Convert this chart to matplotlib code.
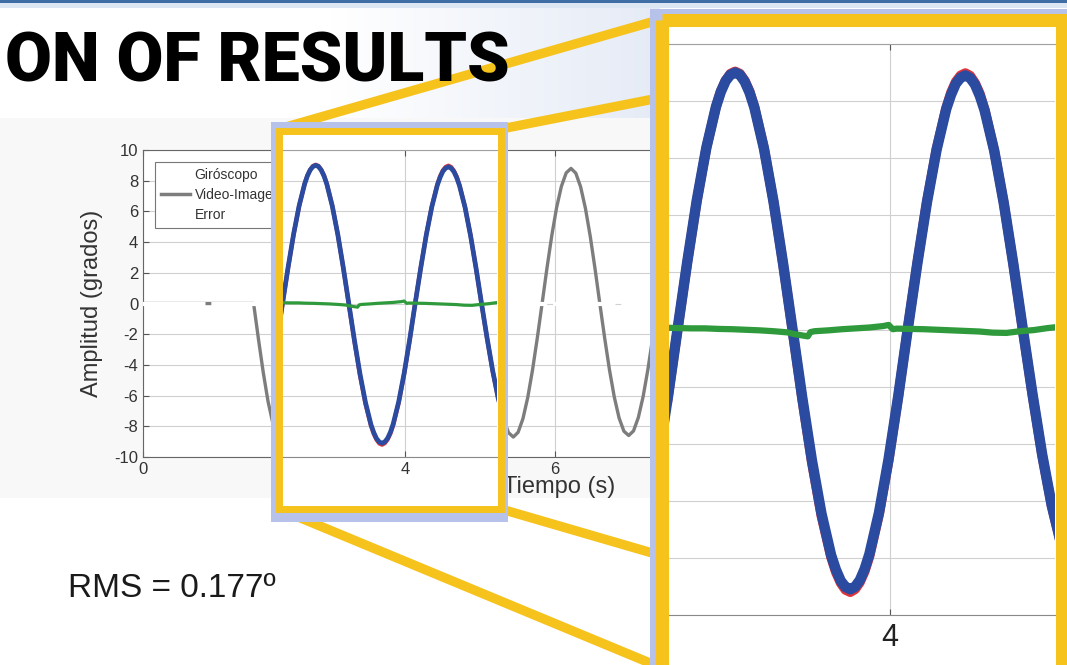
import numpy as np
import matplotlib
matplotlib.use('Agg')
import matplotlib.pyplot as plt
from matplotlib.patches import Rectangle
from matplotlib.lines import Line2D
from matplotlib.colors import LinearSegmentedColormap

plt.rcParams['font.family'] = ['Liberation Sans', 'DejaVu Sans']
plt.rcParams['axes.unicode_minus'] = False

# muestras de la señal (s) y amplitud (grados)
tiempo = [0.00,
          1.61, 1.68, 1.75, 1.82, 1.89, 1.96, 2.03, 2.10, 2.17, 2.24, 2.31, 2.38,
          2.45, 2.52, 2.59, 2.66, 2.73, 2.765, 2.80, 2.835, 2.87, 2.905, 2.94, 2.975,
          3.01, 3.08, 3.15, 3.22,
          3.29, 3.36, 3.43, 3.50, 3.57, 3.605, 3.64, 3.675, 3.71, 3.745, 3.78, 3.815,
          3.85, 3.92, 3.99, 4.06,
          4.13, 4.20, 4.27, 4.34, 4.41, 4.445, 4.48, 4.515, 4.55, 4.585, 4.62, 4.655,
          4.69, 4.76, 4.83, 4.90,
          4.97, 5.04, 5.11, 5.18, 5.25, 5.32, 5.39, 5.46, 5.53, 5.60, 5.67, 5.74,
          5.81, 5.88, 5.95, 6.02, 6.09, 6.16, 6.23, 6.30, 6.37, 6.44, 6.51, 6.58,
          6.65, 6.72, 6.79, 6.86, 6.93, 7.00, 7.07, 7.14, 7.21, 7.28, 7.35, 7.42,
          7.49, 7.56, 7.63]

video = [0.00,
         0.00, -2.30, -4.48, -6.38, -7.80, -8.70, -9.00, -8.68, -7.77, -6.35, -4.50, -2.34,
         0.02, 2.35, 4.52, 6.37, 7.80, 8.32, 8.70, 8.92, 9.00, 8.92, 8.68, 8.30,
         7.78, 6.34, 4.48, 2.30,
         -0.04, -2.40, -4.58, -6.45, -7.90, -8.41, -8.80, -9.02, -9.10, -9.01, -8.78, -8.39,
         -7.86, -6.41, -4.53, -2.34,
         0.03, 2.33, 4.47, 6.30, 7.72, 8.22, 8.61, 8.82, 8.90, 8.81, 8.58, 8.19,
         7.68, 6.27, 4.43, 2.29,
         -0.02, -2.27, -4.37, -6.16, -7.54, -8.41, -8.70, -8.39, -7.51, -6.13, -4.33, -2.23,
         0.02, 2.30, 4.42, 6.24, 7.63, 8.51, 8.80, 8.49, 7.60, 6.20, 4.38, 2.26,
         -0.02, -2.25, -4.32, -6.09, -7.46, -8.32, -8.60, -8.30, -7.43, -6.06, -4.28, -2.21,
         0.03, 2.30, 4.42]

# giróscopo en la ventana ampliada (2.38 s - 5.25 s)
t_giro = [2.38,
          2.45, 2.52, 2.59, 2.66, 2.73, 2.765, 2.80, 2.835, 2.87, 2.905, 2.94, 2.975,
          3.01, 3.08, 3.15, 3.22,
          3.29, 3.36, 3.43, 3.50, 3.57, 3.605, 3.64, 3.675, 3.71, 3.745, 3.78, 3.815,
          3.85, 3.92, 3.99, 4.06,
          4.13, 4.20, 4.27, 4.34, 4.41, 4.445, 4.48, 4.515, 4.55, 4.585, 4.62, 4.655,
          4.69, 4.76, 4.83, 4.90,
          4.97, 5.04, 5.11, 5.18, 5.25]
giroscopo = [-2.36,
             0.00, 2.33, 4.50, 6.36, 7.80, 8.35, 8.72, 8.96, 9.04, 8.96, 8.72, 8.35,
             7.80, 6.36, 4.47, 2.28,
             -0.08, -2.46, -4.66, -6.54, -7.98, -8.50, -8.88, -9.12, -9.20, -9.10, -8.86, -8.48,
             -7.95, -6.48, -4.58, -2.36,
             0.05, 2.35, 4.50, 6.33, 7.76, 8.30, 8.68, 8.90, 8.98, 8.89, 8.64, 8.27,
             7.71, 6.28, 4.43, 2.27,
             -0.05, -2.30, -4.40, -6.18, -7.56]

t_error = [2.38, 2.45, 2.55, 2.65, 2.75, 2.85, 2.95, 3.05, 3.15, 3.25,
           3.30, 3.35, 3.40, 3.42, 3.45, 3.55, 3.65, 3.75, 3.85, 3.95,
           3.99, 4.02, 4.05, 4.15, 4.25, 4.35, 4.45, 4.55, 4.65, 4.75,
           4.85, 4.95, 5.05, 5.15, 5.21]
error = [0.06, 0.05, 0.04, 0.04, 0.02, 0.01, -0.01, -0.03, -0.06, -0.10,
         -0.16, -0.20, -0.24, -0.09, -0.06, -0.03, 0.01, 0.04, 0.07, 0.12,
         0.16, 0.01, 0.03, 0.02, 0.01, -0.01, -0.03, -0.05, -0.07, -0.11,
         -0.12, -0.06, -0.02, 0.05, 0.08]

x_ticks = [0, 2, 4, 6, 8, 10]
y_ticks = [-10, -8, -6, -4, -2, 0, 2, 4, 6, 8, 10]
legend_labels = ['Giróscopo', 'Video-Imagen', 'Error']

GRAY = '#7d7d7d'
BLUE = '#2a4b9f'
RED = '#e0343c'
GREEN = '#2f9a3c'
YELLOW = '#f6c21c'
SHADOW = '#b7c2ea'

W, H = 1067, 665


def box(x0, y0, x1, y1):
    # pixel box (origin top-left) -> figure fraction rect
    return [x0 / W, 1 - y1 / H, (x1 - x0) / W, (y1 - y0) / H]


def overlay(z):
    a = fig.add_axes([0, 0, 1, 1], zorder=z)
    a.patch.set_alpha(0)
    a.axis('off')
    return a


def style_grid(a, labelsize, xlim):
    # set_xticks widens the view, so the limits go last
    a.set_xticks(x_ticks)
    a.set_yticks(y_ticks)
    a.set_xlim(*xlim)
    a.set_ylim(-10, 10)
    a.grid(color='#d0d0d0', lw=0.8)
    a.tick_params(direction='in', length=4, color='#555555',
                  labelsize=labelsize, labelcolor='#333333')


fig = plt.figure(figsize=(W / 100, H / 100), dpi=100)

# --- slide background ---
bg = fig.add_axes([0, 0, 1, 1], zorder=0)
grad = np.linspace(0, 1, 256)[None, :]
fade = LinearSegmentedColormap.from_list('fade', ['#ffffff', '#e5ebf6'])
bg.imshow(grad, extent=(330, 660, 118, 4), cmap=fade, aspect='auto')
bg.add_patch(Rectangle((0, 0), W, 3, fc='#3f6ea6', ec='none'))
bg.add_patch(Rectangle((0, 3), W, 5, fc='#dde6f3', ec='none'))
bg.add_patch(Rectangle((0, 118), 652, 380, fc='#f8f8f8', ec='none'))
bg.set_xlim(0, W)
bg.set_ylim(H, 0)
bg.axis('off')

# --- main chart ---
ax = fig.add_axes(box(143, 150, 830, 457), zorder=1)
ax.plot(tiempo, video, color=GRAY, lw=2.4, zorder=3, solid_joinstyle='round')
ax.axhline(0, color='white', lw=3, dashes=(15, 1.4), zorder=4)
style_grid(ax, 12, (0, 10))
ax.tick_params(top=True, right=True)
for s in ax.spines.values():
    s.set_color('#666666')
    s.set_linewidth(0.8)
ax.set_ylabel('Amplitud (grados)', fontsize=17, color='#333333')
ax.yaxis.set_label_coords(-0.058, 0.5)
ax.set_xlabel('Tiempo (s)', fontsize=17, color='#333333')
ax.xaxis.set_label_coords((559 - 143) / 687, -0.062)
handles = [Line2D([], [], color='white', lw=2.5),
           Line2D([], [], color=GRAY, lw=2.5),
           Line2D([], [], color='white', lw=2.5)]
leg = ax.legend(handles, legend_labels, loc='upper left',
                bbox_to_anchor=(12 / 687, 1 - 12 / 307), borderaxespad=0,
                fontsize=10, handlelength=2.1, handletextpad=0.35,
                labelspacing=0.45, fancybox=False, framealpha=1,
                edgecolor='#777777', labelcolor='#333333')
leg.get_frame().set_linewidth(0.8)

# --- connectors, shadows and white panels ---
dk = overlay(2)
for (xa, ya), (xb, yb) in [((279, 129), (662, 19)), ((501, 129), (1061, 19)),
                           ((279, 509), (662, 668)), ((501, 509), (1061, 672))]:
    dk.plot([xa, xb], [ya, yb], color=YELLOW, lw=6.8,
            solid_capstyle='butt', zorder=1)
dk.add_patch(Rectangle((271, 122), 237, 400, fc=SHADOW, ec='none', zorder=2))
dk.add_patch(Rectangle((278.5, 130.5), 222, 378, fc='white', ec='none', zorder=3))
dk.add_patch(Rectangle((650, 9), 420, 680, fc=SHADOW, ec='none', zorder=2))
dk.add_patch(Rectangle((661.5, 20), 400, 660, fc='white', ec='none', zorder=3))
dk.set_xlim(0, W)
dk.set_ylim(H, 0)


def zoom_axes(rect, xlim, labelsize, lw_red, lw_blue, lw_green, z):
    a = fig.add_axes(rect, zorder=z)
    a.plot(t_giro, giroscopo, color=RED, lw=lw_red, zorder=3,
           solid_joinstyle='round')
    a.plot(tiempo, video, color=BLUE, lw=lw_blue, zorder=4,
           solid_joinstyle='round')
    a.plot(t_error, error, color=GREEN, lw=lw_green, zorder=5,
           solid_joinstyle='round')
    style_grid(a, labelsize, xlim)
    a.tick_params(axis='x', top=True, length=4)
    a.tick_params(axis='y', length=0, labelleft=False)
    a.spines['left'].set_visible(False)
    a.spines['right'].set_visible(False)
    a.spines['top'].set_color('#a0a0a0')
    a.spines['bottom'].set_color('#8a8a8a')
    return a


# inset inside the small frame
ai = zoom_axes(box(282, 150, 497, 457), (2.443, 5.165), 12, 3.0, 3.4, 2.3, 3)
# enlarged view on the right
ab = zoom_axes(box(668, 44, 1055, 615), (2.380, 5.204), 22, 7.0, 7.5, 4.5, 4)
ab.tick_params(axis='x', labelcolor='#222222', pad=6)

# --- frames and slide text ---
ov = overlay(5)
ov.add_patch(Rectangle((278.5, 130.5), 222, 378, fill=False, ec=YELLOW, lw=5.0))
ov.add_patch(Rectangle((661.5, 20), 400, 660, fill=False, ec=YELLOW, lw=9.4))
ov.text(510, 82, 'ON OF RESULTS', ha='right', va='baseline', fontsize=49,
        fontweight='black', color='black', family=['Roboto', 'DejaVu Sans'])
ov.text(68, 597, 'RMS = 0.177º', ha='left', va='baseline', fontsize=24,
        color='#1a1a1a')
ov.set_xlim(0, W)
ov.set_ylim(H, 0)

fig.savefig('out.png', dpi=100)
